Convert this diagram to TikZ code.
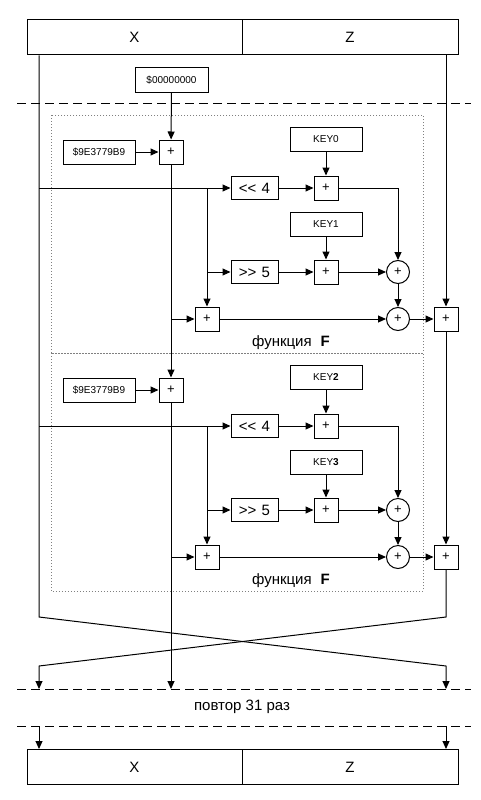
\documentclass[tikz,border=0pt]{standalone}
\usepackage{fontspec}
\setmainfont{Liberation Sans}
\usetikzlibrary{arrows.meta}

\begin{document}
\begin{tikzpicture}[x=1pt,y=-1pt,line width=1pt,
    every node/.style={inner sep=0pt},
    big/.style={font=\fontsize{15}{18}\selectfont},
    small/.style={font=\fontsize{10}{12}\selectfont},
    plus/.style={font=\fontsize{13}{15}\selectfont},
    reg/.style={draw,big,minimum height=35pt},
    cbox/.style={draw,small,minimum width=72pt,minimum height=24pt},
    pbox/.style={draw,plus,minimum size=24pt},
    opbox/.style={draw,big,minimum width=47pt,minimum height=23pt},
    xorc/.style={draw,circle,plus,minimum size=23pt},
    arr/.style={-{Triangle[length=8pt,width=7pt]}},
    dotframe/.style={gray,line width=0.8pt,dash pattern=on 0.8pt off 2.2pt},
    cutline/.style={dash pattern=on 9pt off 5pt}]
    \fill [white] (0,0) rectangle (481,800);
    \useasboundingbox (0,0) rectangle (481,800);
    \coordinate (lb) at (39,617);
    \coordinate (rb) at (446,617);
    \coordinate (lc) at (39,666);
    \coordinate (rc) at (446,666);
    \coordinate (lr) at (39,689);
    \coordinate (rr) at (446,689);
    \coordinate (mr) at (171,689);
    \coordinate (lt) at (39,726);
    \coordinate (rt) at (446,726);
    \node [reg,minimum width=215pt] (x0) at (134.5,37.5) {X};
    \node [reg,minimum width=216pt] (z0) at (350,37.5) {Z};
    \node [cbox,minimum width=73pt] (init) at (171.5,80) {\$00000000};
    \draw [cutline] (17,103) -- (471,103);
    \foreach \k/\ka/\kb in {0/KEY0/KEY1,1/KEY\textbf{2}/KEY\textbf{3}} {
        \pgfmathsetmacro\dy{238*\k}
        \draw [dotframe] (51,115+\dy) rectangle (423,353+\dy);
        \node [cbox] (d\k) at (99,152+\dy) {\$9E3779B9};
        \node [pbox] (s\k) at (171,152+\dy) {+};
        \node [cbox] (ka\k) at (326,139+\dy) {\ka};
        \node [opbox] (shl\k) at (254.5,188+\dy) {<\kern0pt<\hspace{0.35em}4};
        \node [pbox] (a\k) at (326,188+\dy) {+};
        \node [cbox] (kb\k) at (326,224+\dy) {\kb};
        \node [opbox] (shr\k) at (254.5,272+\dy) {>\kern0pt>\hspace{0.35em}5};
        \node [pbox] (b\k) at (326,272+\dy) {+};
        \node [xorc] (xa\k) at (398,272+\dy) {+};
        \node [xorc] (xb\k) at (398,319+\dy) {+};
        \node [pbox] (c\k) at (207,319+\dy) {+};
        \node [pbox] (r\k) at (446,319+\dy) {+};
        \node [big] (f\k) at (291,343+\dy) {функция\hspace{0.6em}\textbf{F}};
        \coordinate (br\k) at (207,188+\dy);
        \draw [arr] (d\k) -- (s\k);
        \draw [arr] (shl\k.west -| lb) -- (shl\k.west);
        \draw [arr] (br\k) |- (shr\k.west);
        \draw [arr] (br\k) -- (c\k.north);
        \draw [arr] (shl\k) -- (a\k);
        \draw [arr] (ka\k) -- (a\k);
        \draw [arr] (a\k.east) -| (xa\k.north);
        \draw [arr] (shr\k) -- (b\k);
        \draw [arr] (kb\k) -- (b\k);
        \draw [arr] (b\k) -- (xa\k);
        \draw [arr] (xa\k) -- (xb\k);
        \draw [arr] (c\k.west -| s\k) -- (c\k.west);
        \draw [arr] (c\k) -- (xb\k);
        \draw [arr] (xb\k) -- (r\k);
    }
    \draw [arr] (init) -- (s0);
    \draw [arr] (s0) -- (s1);
    \draw [arr] (s1) -- (mr);
    \draw [arr] (z0.south -| rb) -- (r0.north);
    \draw [arr] (r0) -- (r1);
    \draw [arr] (x0.south -| lb) -- (lb) -- (rc) -- (rr);
    \draw [arr] (r1.south) -- (rb) -- (lc) -- (lr);
    \draw [cutline] (17,689) -- (471,689);
    \node [big] (rep) at (242,707) {повтор 31 раз};
    \draw [cutline] (17,726) -- (471,726);
    \node [reg,minimum width=215pt] (x1) at (134.5,767) {X};
    \node [reg,minimum width=216pt] (z1) at (350,767) {Z};
    \draw [arr] (lt) -- (x1.north -| lt);
    \draw [arr] (rt) -- (z1.north -| rt);
\end{tikzpicture}
\end{document}
